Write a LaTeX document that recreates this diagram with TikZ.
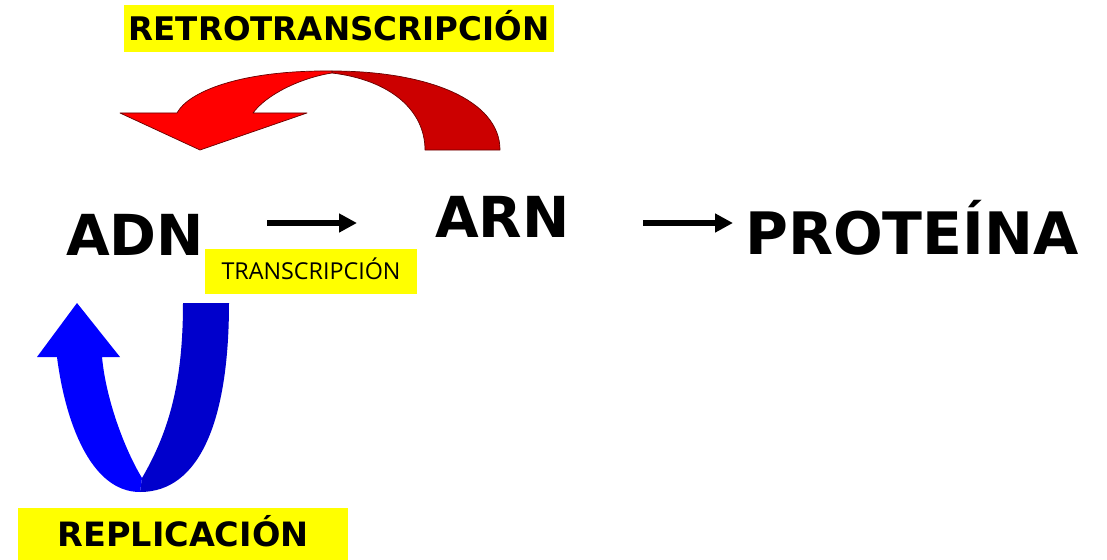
\documentclass[tikz,border=0pt]{standalone}
\usepackage{fontspec}
\setmainfont{DejaVu Sans}
\newfontfamily\labelfont{Open Sans}
\usetikzlibrary{arrows.meta}

\definecolor{hiyellow}{RGB}{255,255,0}
\definecolor{redfront}{RGB}{255,0,0}
\definecolor{redback}{RGB}{204,0,0}
\definecolor{bluefront}{RGB}{0,0,255}
\definecolor{blueback}{RGB}{0,0,204}

\tikzset{
  bigword/.style={inner sep=0pt, anchor=base west,
    font=\bfseries\fontsize{56.5}{60}\selectfont},
  tagbox/.style={fill=hiyellow, inner sep=0pt, text depth=0pt},
  boldtag/.style={tagbox, text height=23.8pt, font=\bfseries\fontsize{32.5}{36}\selectfont},
  thintag/.style={tagbox, text height=16.6pt, font=\labelfont\fontsize{23.3}{26}\selectfont},
  flow/.style={line width=5.5pt, -{Triangle[length=18pt,width=18pt]}},
  redpart/.style={draw=black!60!red, line width=0.7pt, line join=round},
}

\begin{document}
\begin{tikzpicture}[x=1pt,y=-1pt]
  \useasboundingbox (0,0) rectangle (1107,559);
  \fill[white] (0,0) rectangle (1107,559);

  % main words
  \node[bigword] (adn) at (66,255) {ADN};
  \node[bigword] (arn) at (435,237) {ARN};
  \node[bigword, font=\bfseries\fontsize{58.5}{62}\selectfont] (prot) at (745,254) {PROTEÍNA};

  % labels on yellow
  \node[boldtag, minimum width=430pt, minimum height=47pt] (retro) at (339,28.5) {RETROTRANSCRIPCIÓN};
  \node[thintag, minimum width=212pt, minimum height=45pt] (transc) at (311,271.5) {TRANSCRIPCIÓN};
  \node[boldtag, minimum width=330pt, minimum height=54pt, font=\bfseries\fontsize{33.5}{36}\selectfont]
    (repl) at (183,535) {REPLICACIÓN};

  % straight transfer arrows
  \coordinate (t1s) at (267,223);
  \coordinate (t1e) at (357,223);
  \coordinate (t2s) at (643,223);
  \coordinate (t2e) at (733,223);
  \draw[flow] (t1s) -- (t1e);
  \draw[flow] (t2s) -- (t2e);

  % curved red arrow: back band then front band with head
  \path[redpart, fill=redback]
    (332,71) .. controls (428,71) and (500,100) .. (500,150)
    -- (425,150) .. controls (425,110) and (390,80) .. (332,73) -- cycle;
  \path[redpart, fill=redfront]
    (177,113) .. controls (188,92) and (240,70) .. (332,71)
    -- (332,73) .. controls (300,78) and (266,95) .. (253,113)
    -- (307,113) -- (200,150) -- (120,113) -- cycle;

  % U-shaped blue arrow: back band then front band with head
  \fill[blueback]
    (183,303) -- (229,303) .. controls (229,420) and (200,492) .. (140,492)
    -- (142,478) .. controls (170,430) and (183,380) .. (183,303) -- cycle;
  \fill[bluefront]
    (77,303) -- (120,357) -- (102,357)
    .. controls (106,400) and (125,450) .. (142,478)
    -- (140,492) .. controls (90,492) and (65,420) .. (57,357)
    -- (37,357) -- cycle;
\end{tikzpicture}
\end{document}
